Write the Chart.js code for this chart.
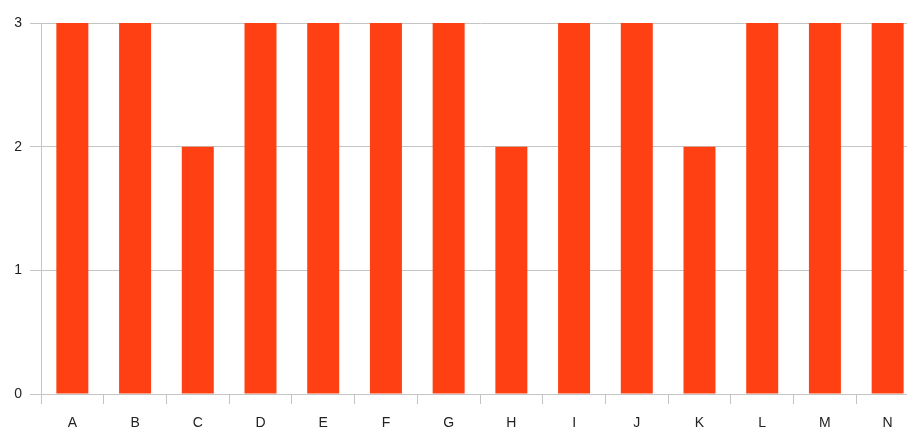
<!DOCTYPE html>
<html>
<head>
<meta charset="utf-8">
<script src="https://cdn.jsdelivr.net/npm/chart.js@4/dist/chart.umd.min.js"></script>
<style>
  html, body { margin: 0; padding: 0; background: #fff; overflow: hidden; }
  /* the reference plot runs a few pixels past the right edge, so the canvas is wider than the window */
  #wrap { width: 919px; height: 428px; position: relative; }
</style>
</head>
<body>
<div id="wrap"><canvas id="c"></canvas></div>
<script>
// categories and their values
const categories = ['A', 'B', 'C', 'D', 'E', 'F', 'G', 'H', 'I', 'J', 'K', 'L', 'M', 'N']
const values = [3, 3, 2, 3, 3, 3, 3, 2, 3, 3, 2, 3, 3, 3]
const yTicks = [0, 1, 2, 3]

const barColor = '#ff4013'
const gridColor = '#c4c4c4'

new Chart(document.getElementById('c'), {
  type: 'bar',
  data: {
    labels: categories,
    datasets: [{
      data: values,
      backgroundColor: barColor,
      borderWidth: 0,
      categoryPercentage: 1,
      barPercentage: 0.51,
    }],
  },
  options: {
    responsive: true,
    maintainAspectRatio: false,
    animation: false,
    layout: { padding: { top: 23, right: 0, left: 0, bottom: 0 } },
    plugins: { legend: { display: false }, tooltip: { enabled: false } },
    scales: {
      x: {
        offset: true,
        grid: {
          offset: true,
          drawOnChartArea: false,
          color: gridColor,
          lineWidth: 1,
          tickLength: 10,
        },
        border: { color: gridColor, width: 1 },
        ticks: {
          color: '#222',
          font: { family: 'Liberation Sans, Arial, sans-serif', size: 14 },
          padding: 11,
          maxRotation: 0,
        },
        afterFit: (s) => { s.height = 34 },
      },
      y: {
        min: 0,
        max: 3,
        afterBuildTicks: (s) => { s.ticks = yTicks.map(v => ({ value: v })) },
        grid: { color: gridColor, lineWidth: 1, tickLength: 11 },
        border: { color: gridColor, width: 1 },
        ticks: {
          color: '#222',
          font: { family: 'Liberation Sans, Arial, sans-serif', size: 14 },
          padding: 8,
        },
        afterFit: (s) => { s.width = 41 },
      },
    },
  },
})
</script>
</body>
</html>
